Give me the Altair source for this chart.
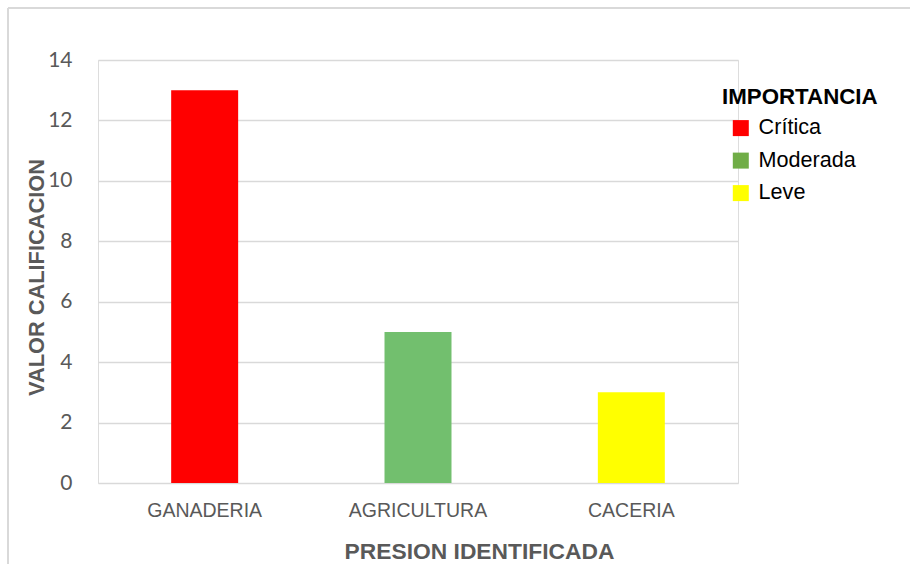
import altair as alt
import pandas as pd

# Pressure categories, their scores and importance level
presiones = ["GANADERIA", "AGRICULTURA", "CACERIA"]
valores = [13, 5, 3]
importancia = ["Crítica", "Moderada", "Leve"]

# Bar fills and legend swatch fills
colores_barra = ["#ff0000", "#72bf6e", "#ffff00"]
colores_leyenda = ["#ff0000", "#70ad47", "#ffff00"]

df = pd.DataFrame({
    "presion": presiones,
    "valor": valores,
    "importancia": importancia,
    "fill": colores_barra,
})

SANS = "Liberation Sans, Arial, sans-serif"
GRAY = "#595959"
GRID = "#d9d9d9"

x_enc = alt.X(
    "presion:N",
    sort=presiones,
    scale=alt.Scale(paddingInner=0.686, paddingOuter=0.343),
    axis=alt.Axis(
        title="PRESION IDENTIFICADA",
        labelAngle=0,
        labelFont=SANS,
        labelFontSize=19.5,
        labelColor=GRAY,
        labelPadding=18,
        ticks=False,
        domain=False,
        titleFont=SANS,
        titleFontSize=22.8,
        titleFontWeight="bold",
        titleColor=GRAY,
        titleX=381,
        titleY=75,
        titleBaseline="alphabetic",
        titleAnchor="middle",
        titleAlign="center",
    ),
)

y_enc = alt.Y(
    "valor:Q",
    scale=alt.Scale(domain=[0, 14]),
    axis=alt.Axis(
        title="VALOR CALIFICACION",
        values=[0, 2, 4, 6, 8, 10, 12, 14],
        labelFont="Lato, Carlito, sans-serif",
        labelFontSize=21,
        labelColor=GRAY,
        labelPadding=26,
        ticks=False,
        domain=False,
        grid=True,
        gridColor=GRID,
        gridWidth=1.4,
        titleFont=SANS,
        titleFontSize=21.8,
        titleFontWeight="bold",
        titleColor=GRAY,
        titleAngle=270,
        titleX=-55,
        titleY=217,
        titleBaseline="alphabetic",
        titleAlign="center",
    ),
)

bars = alt.Chart(df).mark_bar().encode(
    x=x_enc,
    y=y_enc,
    fill=alt.Fill("fill:N", scale=None, legend=None),
)

# Invisible points that carry the importance legend
legend_layer = alt.Chart(df).mark_point(opacity=0, filled=True, shape="square").encode(
    x=alt.X("presion:N", sort=presiones),
    y=alt.Y("valor:Q"),
    color=alt.Color(
        "importancia:N",
        scale=alt.Scale(domain=importancia, range=colores_leyenda),
        legend=alt.Legend(
            title="IMPORTANCIA",
            orient="none",
            legendX=624,
            legendY=26,
            titleFont=SANS,
            titleFontSize=22.3,
            titleFontWeight="bold",
            titleColor="#000000",
            titlePadding=9,
            labelFont=SANS,
            labelFontSize=21.6,
            labelColor="#000000",
            labelOffset=7,
            symbolType="square",
            symbolSize=256,
            symbolOpacity=1,
            symbolStrokeWidth=0,
            symbolOffset=8,
            rowPadding=9.5,
        ),
    ),
)

# Chart frame lines on the left and top
frame_left = alt.Chart(df).mark_rule(color=GRID, strokeWidth=1.5).encode(
    x=alt.value(-90), y=alt.value(-52), y2=alt.value(520)
)
frame_top = alt.Chart(df).mark_rule(color=GRID, strokeWidth=1.5).encode(
    x=alt.value(-90), x2=alt.value(830), y=alt.value(-52)
)

chart = (
    alt.layer(frame_left, frame_top, bars, legend_layer)
    .properties(
        width=640,
        height=423,
        autosize=alt.AutoSizeParams(type="none"),
        padding={"left": 98, "top": 60, "right": 172, "bottom": 81},
    )
    .configure_view(stroke=None)
    .configure(background="white")
)

chart.save("out.html", embed_options={"renderer": "svg", "actions": False})
